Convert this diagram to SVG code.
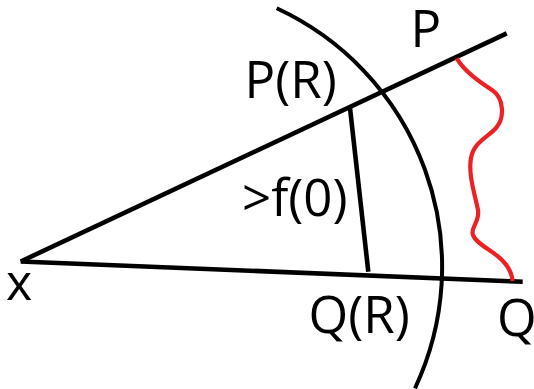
<svg xmlns="http://www.w3.org/2000/svg" width="534" height="389" viewBox="0 0 534 389">
<style>
.ln{fill:none;stroke:#000;stroke-width:4.6;stroke-linecap:butt}
.arc{fill:none;stroke:#000;stroke-width:4}
.wave{fill:none;stroke:#ed2024;stroke-width:4.2;stroke-linecap:butt}
.lbl{font-family:"Open Sans","Liberation Sans",sans-serif;font-size:51px;fill:#000}
</style>
<rect width="534" height="389" fill="#fff"/>
<g id="connectors">
<path id="ray-p" class="ln" d="M20.7,261.5 L506.7,33.3"/>
<path id="ray-q" class="ln" d="M20.7,261.5 L522.7,281.7"/>
<path id="chord" class="ln" d="M350,108 L368.3,271.7"/>
<path id="sphere" class="arc" d="M276.7,8.3 A285,285 0 0 1 415,388.3"/>
<path id="curve" class="wave" d="M456.7,58.3 C465,72 480,82 492,90 C504,98 505,118 496,128 C488,137 474,142 471,158 C468,174 475,195 478,210 C480,222 470,228 473,235 C476,244 492,250 502,260 C510,268 512,275 512.7,281"/>
</g>
<g id="node-x"><text class="lbl" x="6" y="299.5" style="font-size:50px">x</text></g>
<g id="node-PR"><text class="lbl" x="244.5" y="98.3">P(R)</text></g>
<g id="node-P"><text class="lbl" x="410.5" y="46.7">P</text></g>
<g id="node-f0"><text class="lbl" x="242" y="216">&gt;f(0)</text></g>
<g id="node-QR"><text class="lbl" x="308.5" y="332.7">Q(R)</text></g>
<g id="node-Q"><text class="lbl" x="497" y="336">Q</text></g>
</svg>
